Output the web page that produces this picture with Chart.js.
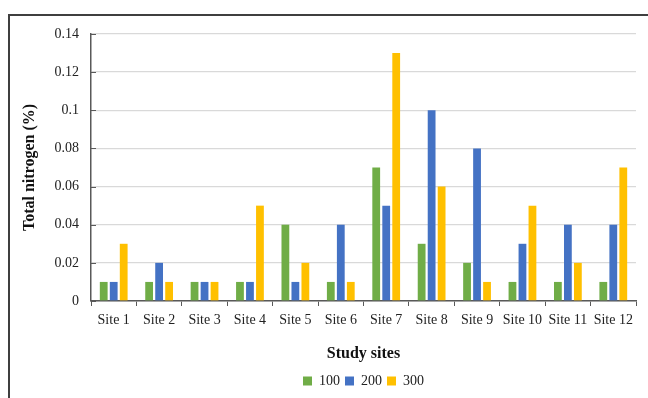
<!DOCTYPE html>
<html>
<head>
<meta charset="utf-8">
<script src="https://cdn.jsdelivr.net/npm/chart.js@4/dist/chart.umd.min.js"></script>
<style>
  html, body { margin: 0; padding: 0; background: #fff; }
  #wrap { position: relative; width: 648px; height: 398px; overflow: hidden; }
  #frame { position: absolute; left: 8px; top: 14px; width: 700px; height: 500px;
           border-left: 2px solid #3f3f3f; border-top: 2px solid #3f3f3f; box-sizing: border-box; }
  canvas { position: absolute; left: 0; top: 0; }
</style>
</head>
<body>
<div id="wrap">
  <div id="frame"></div>
  <canvas id="c" width="648" height="398"></canvas>
</div>
<script>
const categories = ["Site 1","Site 2","Site 3","Site 4","Site 5","Site 6","Site 7","Site 8","Site 9","Site 10","Site 11","Site 12"];
const seriesNames = ["100","200","300"];
const values100 = [0.01,0.01,0.01,0.01,0.04,0.01,0.07,0.03,0.02,0.01,0.01,0.01];
const values200 = [0.01,0.02,0.01,0.01,0.01,0.04,0.05,0.10,0.08,0.03,0.04,0.04];
const values300 = [0.03,0.01,0.01,0.05,0.02,0.01,0.13,0.06,0.01,0.05,0.02,0.07];
const yTicks = [0,0.02,0.04,0.06,0.08,0.1,0.12,0.14];

const colors = ["#70AD47","#4472C4","#FFC000"];
const font = "'Liberation Serif', 'Times New Roman', serif";

const innerTicks = {
  id: 'innerTicks',
  afterDatasetsDraw(chart) {
    const y = chart.scales.y, ctx = chart.ctx, x0 = chart.chartArea.left;
    ctx.save();
    ctx.strokeStyle = '#595959';
    ctx.lineWidth = 1;
    y.ticks.forEach(t => {
      const py = Math.round(y.getPixelForValue(t.value)) + 0.5;
      ctx.beginPath(); ctx.moveTo(x0, py); ctx.lineTo(x0 + 5, py); ctx.stroke();
    });
    ctx.restore();
  }
};

new Chart(document.getElementById('c'), {
  type: 'bar',
  data: {
    labels: categories,
    datasets: [values100, values200, values300].map((v, i) => ({
      label: seriesNames[i],
      data: v,
      backgroundColor: colors[i],
      categoryPercentage: 0.66,
      barPercentage: 0.78
    }))
  },
  options: {
    responsive: false,
    animation: false,
    devicePixelRatio: 1,
    layout: { padding: { left: 20, right: 12, top: 34, bottom: 0 } },
    plugins: {
      tooltip: { enabled: false },
      legend: {
        position: 'bottom',
        fullSize: false,
        labels: {
          font: { family: font, size: 14 },
          color: '#222',
          boxWidth: 9, boxHeight: 9,
          padding: 5
        }
      }
    },
    scales: {
      x: {
        grid: { drawOnChartArea: false, drawTicks: true, tickLength: 5, color: '#595959', offset: true },
        border: { color: '#595959', width: 1.5 },
        ticks: { font: { family: font, size: 14 }, color: '#222', padding: 6, maxRotation: 0, autoSkip: false },
        title: { display: true, text: 'Study sites', font: { family: font, size: 16, weight: 'bold' }, color: '#111', padding: { top: 13, bottom: 6 } },
        afterFit(s) { s.height = 68; }
      },
      y: {
        min: 0, max: 0.14,
        afterBuildTicks(s) { s.ticks = yTicks.map(v => ({ value: v })); },
        grid: { color: '#d9d9d9', lineWidth: 1.3, drawTicks: false },
        border: { color: '#595959', width: 1.5 },
        ticks: { font: { family: font, size: 14 }, color: '#222', padding: 12,
                 callback: v => String(Math.round(v * 100) / 100) },
        title: { display: true, text: 'Total nitrogen (%)', font: { family: font, size: 16, weight: 'bold' }, color: '#111', padding: 0 },
        afterFit(s) { s.width = 71; }
      }
    }
  },
  plugins: [innerTicks]
});
</script>
</body>
</html>
